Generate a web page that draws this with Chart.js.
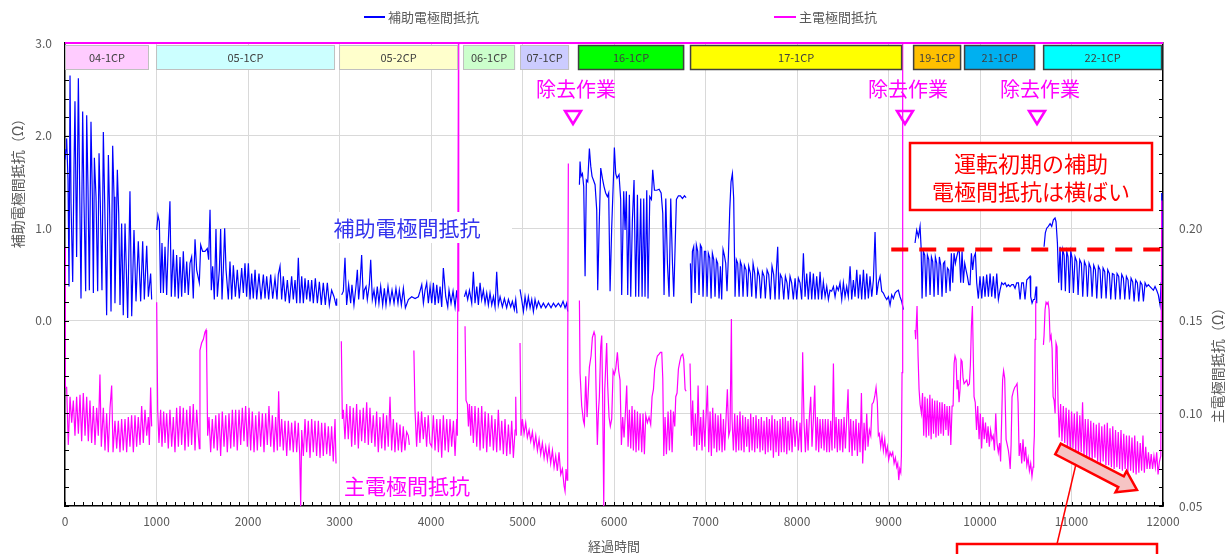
<!DOCTYPE html>
<html>
<head>
<meta charset="utf-8">
<script src="https://cdn.jsdelivr.net/npm/chart.js@4.4.0/dist/chart.umd.min.js"></script>
<style>
body{margin:0;background:#fff}
#wrap{width:1226px;height:554px}
</style>
</head>
<body>
<div id="wrap"><canvas id="c" width="1226" height="554"></canvas></div>
<script>
// operating periods (hours)
const cpLabels = ['04-1CP','05-1CP','05-2CP','06-1CP','07-1CP','16-1CP','17-1CP','19-1CP','21-1CP','22-1CP'];
const cpStart = [0,995,2995,4350,4973,5607,6831,9269,9826,10690];
const cpEnd = [918,2951,4296,4919,5509,6766,9149,9793,10602,11990];
const cpFill = ['#FFCCFF','#CCFFFF','#FFFFCC','#CCFFCC','#CCCCFF','#00FF00','#FFFF00','#FFC000','#00B0F0','#00FFFF'];

// removal work marks (hours)
const removalHours = [5552, 9180, 10623];

// flat level of aux resistance (Ω), hours range
const flatLevel = 0.77;
const flatFrom = 9030;
const flatTo = 12000;

// aux electrode resistance [hours, Ω] (left axis)
const auxSeries = [
[0,1.74],[11,1.85],[18,1.97],[33,1.52],[44,0.37],[55,2.65],[66,1.27],[84,0.42],[98,1.63],[109,2.37],[127,0.69],[146,2.62],[160,1.45],[175,0.24],[193,2.26],[208,1.27],[226,0.32],[237,2.22],[251,1.45],[266,0.33],[284,2.15],[299,1.34],[310,0.30],[321,1.76],[339,1.34],[357,0.32],[372,1.81],[386,1.27],[404,0.33],[419,2.04],[434,1.27],[455,0.06],[474,1.79],[488,1.16],[503,0.10],[521,1.89],[536,1.34],[546,0.19],[572,1.63],[587,1.16],[601,0.17],[619,1.05],[637,0.06],[656,1.05],[685,0.03],[710,1.40],[729,0.05],[754,0.98],[776,0.21],[801,0.86],[827,0.21],[849,0.86],[867,0.23],[893,0.81],[911,0.26],[936,0.51],[947,0.23],[970,null],
[1002,0.98],[1016,1.14],[1031,1.07],[1045,0.30],[1060,0.84],[1075,0.30],[1093,0.80],[1111,0.28],[1129,0.84],[1147,1.29],[1162,0.26],[1184,0.77],[1202,0.26],[1220,0.71],[1239,0.24],[1257,0.69],[1275,0.26],[1293,0.75],[1311,0.30],[1330,0.64],[1348,0.28],[1366,0.62],[1384,0.69],[1402,0.24],[1421,0.88],[1439,0.55],[1468,0.41],[1483,0.82],[1504,0.75],[1530,0.75],[1555,0.78],[1570,0.66],[1585,1.20],[1599,0.33],[1614,0.59],[1632,0.23],[1650,0.99],[1665,0.26],[1687,0.55],[1701,0.99],[1716,0.23],[1730,0.55],[1745,1.00],[1760,0.55],[1785,0.23],[1803,0.64],[1822,0.23],[1840,0.60],[1862,0.26],[1883,0.55],[1905,0.24],[1931,0.57],[1949,0.30],[1967,0.62],[1985,0.26],[2004,0.62],[2022,0.23],[2040,0.51],[2058,0.24],[2077,0.55],[2095,0.23],[2120,0.51],[2142,0.23],[2168,0.50],[2186,0.24],[2204,0.48],[2226,0.23],[2248,0.50],[2270,0.24],[2295,0.46],[2317,0.23],[2331,0.50],[2350,0.59],[2368,0.23],[2386,0.48],[2408,0.21],[2430,0.44],[2452,0.19],[2477,0.48],[2495,0.23],[2514,0.44],[2532,0.19],[2550,0.68],[2568,0.19],[2587,0.48],[2605,0.19],[2623,0.46],[2641,0.23],[2659,0.44],[2678,0.21],[2696,0.44],[2714,0.19],[2736,0.46],[2758,0.19],[2780,0.42],[2801,0.17],[2823,0.41],[2845,0.17],[2867,0.41],[2889,0.17],[2914,0.33],[2940,0.26],[2962,0.17],[2969,0.24],[2990,null],
[3024,0.28],[3042,0.32],[3060,0.68],[3078,0.17],[3100,0.39],[3122,0.19],[3136,0.39],[3158,0.17],[3180,0.37],[3195,0.55],[3209,0.23],[3224,0.39],[3242,0.71],[3260,0.23],[3271,0.33],[3290,0.37],[3304,0.23],[3326,0.39],[3341,0.66],[3359,0.23],[3377,0.33],[3395,0.19],[3413,0.37],[3431,0.19],[3450,0.37],[3472,0.17],[3490,0.35],[3508,0.17],[3530,0.37],[3552,0.19],[3574,0.33],[3596,0.19],[3617,0.35],[3639,0.19],[3654,0.33],[3676,0.17],[3698,0.35],[3720,0.14],[3753,0.23],[3789,0.26],[3826,0.24],[3862,0.26],[3880,0.32],[3899,0.39],[3917,0.19],[3935,0.33],[3953,0.41],[3971,0.19],[3990,0.37],[4008,0.19],[4026,0.41],[4044,0.17],[4063,0.39],[4081,0.19],[4099,0.37],[4117,0.15],[4135,0.57],[4161,0.26],[4183,0.15],[4197,0.33],[4219,0.19],[4241,0.32],[4263,0.15],[4281,0.33],[4299,0.14],[4330,null],
[4365,0.26],[4383,0.32],[4401,0.23],[4420,0.33],[4445,0.19],[4463,0.53],[4481,0.19],[4500,0.37],[4518,0.17],[4536,0.41],[4554,0.23],[4572,0.33],[4591,0.19],[4609,0.30],[4627,0.17],[4645,0.30],[4664,0.17],[4682,0.26],[4700,0.15],[4718,0.53],[4736,0.17],[4755,0.26],[4780,0.15],[4802,0.24],[4827,0.14],[4846,0.23],[4871,0.15],[4889,0.21],[4911,0.12],[4926,0.23],[4940,0.08],[4955,null],
[4973,0.34],[4991,0.23],[5010,0.10],[5028,0.26],[5046,0.14],[5064,0.26],[5083,0.14],[5101,0.23],[5119,0.10],[5137,0.23],[5155,0.14],[5174,0.21],[5203,0.14],[5228,0.19],[5254,0.14],[5283,0.19],[5312,0.14],[5338,0.19],[5363,0.15],[5392,0.19],[5418,0.15],[5443,0.21],[5465,0.14],[5483,0.19],[5494,0.10],[5550,null],
[5622,1.47],[5629,1.72],[5640,1.56],[5655,1.59],[5669,1.45],[5684,0.48],[5698,1.52],[5713,1.50],[5731,1.86],[5746,1.67],[5760,1.56],[5775,1.52],[5793,1.47],[5811,1.20],[5822,0.33],[5837,0.98],[5855,1.65],[5873,1.54],[5891,1.45],[5909,1.38],[5928,1.34],[5942,1.38],[5957,0.32],[5975,1.01],[5997,1.63],[6004,1.87],[6019,1.59],[6033,1.54],[6055,1.58],[6073,1.31],[6084,0.28],[6106,1.40],[6121,0.98],[6135,1.40],[6150,0.28],[6168,1.36],[6183,0.26],[6201,1.09],[6219,1.52],[6237,0.26],[6256,1.36],[6270,0.26],[6292,1.32],[6307,0.26],[6325,1.32],[6339,0.26],[6358,1.41],[6372,0.24],[6391,1.34],[6409,1.31],[6423,1.63],[6442,1.41],[6467,1.41],[6493,1.42],[6515,1.38],[6533,1.16],[6547,0.28],[6566,1.32],[6584,0.62],[6602,0.26],[6620,1.32],[6639,0.62],[6653,0.26],[6668,0.80],[6682,1.31],[6704,1.35],[6726,1.35],[6748,1.32],[6770,1.35],[6788,1.33],[6810,null],
[6835,0.62],[6846,0.19],[6857,0.75],[6871,0.80],[6886,0.30],[6900,0.82],[6915,0.75],[6929,0.28],[6944,0.82],[6958,0.79],[6973,0.26],[6988,0.75],[7002,0.75],[7017,0.26],[7031,0.73],[7046,0.68],[7061,0.24],[7075,0.73],[7090,0.66],[7104,0.26],[7119,0.66],[7133,0.62],[7148,0.24],[7163,0.59],[7177,0.23],[7192,0.77],[7206,0.71],[7221,0.62],[7235,0.32],[7250,0.69],[7265,1.20],[7279,1.50],[7294,1.59],[7308,1.32],[7323,0.26],[7337,0.66],[7352,0.62],[7367,0.26],[7381,0.64],[7396,0.59],[7410,0.26],[7425,0.60],[7443,0.55],[7458,0.26],[7472,0.59],[7491,0.51],[7505,0.26],[7520,0.62],[7538,0.51],[7552,0.24],[7571,0.55],[7589,0.48],[7603,0.24],[7622,0.53],[7640,0.48],[7654,0.24],[7673,0.55],[7691,0.50],[7709,0.23],[7727,0.59],[7745,0.50],[7760,0.23],[7775,0.55],[7789,0.80],[7804,0.23],[7818,0.50],[7836,0.46],[7855,0.23],[7873,0.48],[7891,0.41],[7906,0.23],[7924,0.48],[7942,0.41],[7960,0.23],[7979,0.46],[7997,0.23],[8015,0.46],[8033,0.41],[8051,0.23],[8070,0.73],[8088,0.26],[8106,0.51],[8124,0.23],[8143,0.53],[8161,0.23],[8179,0.51],[8197,0.23],[8215,0.48],[8234,0.23],[8252,0.53],[8270,0.23],[8288,0.42],[8307,0.26],[8325,0.37],[8343,0.23],[8361,0.33],[8379,0.32],[8398,0.37],[8416,0.26],[8434,0.37],[8452,0.33],[8470,0.41],[8489,0.23],[8507,0.41],[8525,0.26],[8543,0.37],[8561,0.26],[8580,0.59],[8598,0.23],[8616,0.44],[8634,0.26],[8653,0.55],[8671,0.24],[8689,0.50],[8707,0.23],[8726,0.55],[8744,0.23],[8762,0.51],[8780,0.24],[8798,0.48],[8817,0.26],[8835,0.44],[8853,0.96],[8871,0.28],[8889,0.41],[8908,0.48],[8926,0.32],[8944,0.30],[8962,0.26],[8981,0.23],[8999,0.26],[9017,0.17],[9035,0.28],[9053,0.24],[9072,0.30],[9090,0.32],[9108,0.33],[9126,0.26],[9144,0.21],[9163,0.12],[9200,null],
[9290,0.84],[9308,0.98],[9327,0.91],[9345,1.02],[9356,0.80],[9367,0.24],[9381,0.75],[9396,0.71],[9410,0.26],[9425,0.71],[9440,0.66],[9454,0.28],[9469,0.69],[9483,0.64],[9498,0.26],[9512,0.69],[9527,0.62],[9542,0.28],[9556,0.69],[9571,0.60],[9585,0.26],[9600,0.62],[9614,0.64],[9629,0.30],[9644,0.57],[9658,0.55],[9673,0.32],[9687,0.73],[9702,0.41],[9716,0.73],[9731,0.62],[9745,0.69],[9760,0.75],[9774,0.75],[9789,0.41],[9804,0.75],[9818,0.41],[9833,0.62],[9847,0.55],[9862,0.48],[9877,0.39],[9891,0.39],[9906,0.73],[9920,0.55],[9935,0.69],[9950,0.73],[9964,0.41],[9982,0.24],[10000,0.48],[10019,0.24],[10037,0.48],[10055,0.26],[10073,0.50],[10092,0.26],[10110,0.51],[10128,0.26],[10146,0.48],[10165,0.24],[10183,0.51],[10201,0.23],[10219,0.33],[10237,0.41],[10256,0.39],[10274,0.41],[10292,0.37],[10310,0.39],[10328,0.37],[10347,0.39],[10365,0.39],[10383,0.35],[10401,0.41],[10420,0.41],[10438,0.23],[10456,0.41],[10474,0.41],[10492,0.23],[10511,0.44],[10529,0.46],[10547,0.48],[10554,0.26],[10569,0.19],[10584,0.23],[10598,0.23],[10613,0.37],[10620,0.19],[10650,null],
[10700,0.80],[10714,0.95],[10729,1.00],[10747,1.02],[10766,1.05],[10784,1.02],[10802,1.09],[10820,1.11],[10831,1.07],[10846,0.84],[10860,0.41],[10875,0.80],[10890,0.33],[10904,0.77],[10919,0.71],[10933,0.32],[10948,0.75],[10962,0.69],[10977,0.30],[10992,0.75],[11006,0.68],[11021,0.30],[11039,0.69],[11057,0.64],[11072,0.28],[11090,0.66],[11108,0.62],[11123,0.26],[11141,0.64],[11159,0.59],[11174,0.26],[11192,0.62],[11210,0.57],[11225,0.26],[11243,0.60],[11261,0.55],[11276,0.24],[11294,0.59],[11312,0.55],[11327,0.24],[11345,0.57],[11363,0.53],[11378,0.24],[11396,0.55],[11414,0.51],[11429,0.23],[11447,0.51],[11465,0.50],[11480,0.23],[11498,0.51],[11516,0.48],[11531,0.23],[11549,0.50],[11567,0.46],[11582,0.23],[11600,0.48],[11618,0.44],[11633,0.23],[11651,0.46],[11669,0.42],[11684,0.21],[11702,0.44],[11720,0.41],[11735,0.21],[11753,0.42],[11771,0.39],[11786,0.21],[11804,0.41],[11822,0.37],[11840,0.39],[11858,0.37],[11876,0.35],[11895,0.33],[11913,0.37],[11931,0.33],[11949,0.28],[11968,0.17],[11979,0.41],[11986,1.38],[11993,0.98]
];

// main electrode resistance [hours, Ω] (right axis)
const mainSeries = [
[0,0.19],[4,0.114],[18,0.114],[36,0.083],[55,0.109],[73,0.095],[91,0.107],[109,0.088],[127,0.109],[146,0.089],[164,0.110],[182,0.085],[200,0.111],[219,0.088],[237,0.109],[255,0.085],[273,0.107],[291,0.084],[310,0.104],[328,0.083],[346,0.103],[364,0.088],[382,0.121],[397,0.082],[419,0.103],[437,0.080],[455,0.100],[473,0.079],[492,0.103],[510,0.115],[525,0.079],[546,0.096],[565,0.081],[583,0.096],[601,0.079],[619,0.097],[637,0.080],[656,0.097],[674,0.079],[692,0.098],[710,0.082],[728,0.099],[747,0.079],[765,0.099],[783,0.082],[801,0.098],[820,0.083],[838,0.104],[856,0.084],[874,0.102],[893,0.088],[911,0.098],[922,0.083],[936,0.114],[947,0.093],[970,null],
[1002,0.160],[1013,0.102],[1027,0.084],[1045,0.102],[1060,0.082],[1078,0.101],[1093,0.084],[1111,0.100],[1129,0.081],[1147,0.102],[1166,0.082],[1184,0.098],[1202,0.079],[1220,0.103],[1239,0.082],[1257,0.104],[1275,0.083],[1293,0.103],[1311,0.080],[1330,0.102],[1348,0.082],[1366,0.104],[1384,0.083],[1402,0.105],[1421,0.080],[1439,0.102],[1457,0.088],[1468,0.081],[1475,0.134],[1493,0.138],[1512,0.140],[1530,0.144],[1541,0.145],[1548,0.133],[1559,0.088],[1574,0.098],[1592,0.079],[1610,0.097],[1628,0.081],[1647,0.099],[1665,0.080],[1683,0.100],[1701,0.077],[1719,0.101],[1738,0.082],[1756,0.099],[1774,0.079],[1792,0.100],[1811,0.081],[1829,0.102],[1847,0.082],[1865,0.102],[1883,0.080],[1902,0.102],[1920,0.083],[1938,0.103],[1956,0.085],[1974,0.104],[1993,0.082],[2011,0.103],[2029,0.080],[2047,0.101],[2066,0.079],[2084,0.099],[2102,0.080],[2120,0.101],[2138,0.082],[2157,0.100],[2175,0.079],[2193,0.100],[2211,0.083],[2229,0.104],[2248,0.082],[2266,0.099],[2284,0.079],[2302,0.098],[2321,0.080],[2335,0.112],[2350,0.082],[2368,0.097],[2386,0.080],[2404,0.096],[2423,0.077],[2441,0.096],[2459,0.080],[2477,0.095],[2495,0.079],[2514,0.096],[2532,0.079],[2550,0.095],[2565,0.078],[2576,0.050],[2587,0.091],[2605,0.077],[2623,0.097],[2641,0.079],[2659,0.096],[2678,0.076],[2696,0.097],[2714,0.079],[2732,0.096],[2750,0.077],[2769,0.096],[2787,0.076],[2805,0.095],[2823,0.077],[2841,0.095],[2860,0.078],[2878,0.093],[2896,0.077],[2914,0.093],[2932,0.074],[2951,0.097],[2962,0.073],[2985,null],
[3020,0.139],[3031,0.097],[3042,0.102],[3060,0.086],[3078,0.105],[3096,0.086],[3115,0.104],[3133,0.082],[3151,0.103],[3169,0.083],[3187,0.105],[3206,0.081],[3224,0.102],[3242,0.085],[3260,0.103],[3278,0.084],[3297,0.106],[3315,0.083],[3333,0.103],[3351,0.084],[3369,0.099],[3388,0.082],[3406,0.101],[3424,0.079],[3442,0.098],[3461,0.081],[3479,0.100],[3497,0.080],[3515,0.099],[3533,0.082],[3552,0.109],[3570,0.080],[3588,0.097],[3606,0.079],[3625,0.095],[3643,0.080],[3661,0.094],[3679,0.079],[3697,0.093],[3715,0.080],[3734,0.090],[3752,0.088],[3763,0.083],[3790,null],
[3813,0.134],[3825,0.102],[3843,0.082],[3861,0.101],[3879,0.084],[3897,0.101],[3916,0.086],[3934,0.098],[3952,0.082],[3970,0.099],[3988,0.084],[4008,0.082],[4026,0.099],[4044,0.080],[4063,0.097],[4081,0.079],[4099,0.097],[4117,0.076],[4135,0.099],[4154,0.080],[4172,0.097],[4190,0.079],[4208,0.097],[4226,0.082],[4245,0.096],[4263,0.077],[4281,0.097],[4288,0.088],[4300,0.30],[4303,0.155],[4330,null],
[4372,0.147],[4383,0.107],[4398,0.105],[4409,0.093],[4420,0.105],[4434,0.088],[4445,0.104],[4463,0.084],[4481,0.104],[4500,0.082],[4518,0.103],[4536,0.080],[4554,0.104],[4572,0.081],[4591,0.101],[4609,0.079],[4627,0.100],[4645,0.082],[4664,0.099],[4682,0.080],[4700,0.097],[4718,0.079],[4736,0.102],[4755,0.080],[4773,0.096],[4791,0.078],[4809,0.097],[4827,0.077],[4846,0.094],[4864,0.078],[4882,0.096],[4900,0.076],[4919,0.091],[4926,0.109],[4933,0.088],[4950,null],
[4973,0.138],[4984,0.088],[4999,0.097],[5017,0.089],[5035,0.095],[5053,0.087],[5072,0.091],[5090,0.085],[5108,0.090],[5126,0.082],[5145,0.088],[5163,0.080],[5181,0.086],[5199,0.078],[5217,0.084],[5236,0.076],[5254,0.082],[5272,0.075],[5290,0.082],[5308,0.073],[5327,0.080],[5345,0.071],[5363,0.077],[5381,0.069],[5399,0.079],[5418,0.067],[5436,0.070],[5454,0.061],[5465,0.058],[5476,0.070],[5487,0.064],[5494,0.127],[5501,0.235],[5510,null],
[5622,0.161],[5629,0.122],[5647,0.104],[5666,0.096],[5676,0.094],[5691,0.120],[5706,0.098],[5720,0.113],[5731,0.125],[5749,0.131],[5764,0.141],[5782,0.144],[5793,0.142],[5804,0.113],[5818,0.083],[5829,0.100],[5840,0.109],[5855,0.136],[5866,0.142],[5877,0.104],[5888,0.050],[5899,0.113],[5920,0.138],[5931,0.115],[5946,0.098],[5960,0.093],[5975,0.097],[5990,0.123],[6004,0.121],[6019,0.124],[6037,0.133],[6051,0.123],[6066,0.118],[6081,0.083],[6095,0.098],[6110,0.087],[6124,0.100],[6139,0.115],[6154,0.082],[6168,0.102],[6183,0.081],[6197,0.104],[6212,0.080],[6226,0.102],[6241,0.079],[6256,0.101],[6270,0.080],[6285,0.100],[6303,0.079],[6317,0.100],[6332,0.078],[6347,0.099],[6365,0.095],[6383,0.098],[6401,0.094],[6416,0.109],[6431,0.113],[6445,0.124],[6460,0.128],[6474,0.131],[6493,0.132],[6507,0.133],[6522,0.133],[6533,0.119],[6544,0.077],[6558,0.098],[6573,0.078],[6591,0.101],[6606,0.080],[6620,0.102],[6635,0.079],[6649,0.101],[6664,0.093],[6675,0.109],[6689,0.111],[6704,0.124],[6719,0.128],[6733,0.131],[6751,0.132],[6762,0.129],[6777,0.113],[6788,0.112],[6810,null],
[6831,0.127],[6846,0.088],[6860,0.107],[6875,0.082],[6889,0.100],[6904,0.080],[6919,0.115],[6933,0.083],[6948,0.098],[6962,0.080],[6977,0.102],[6992,0.082],[7006,0.098],[7021,0.115],[7035,0.079],[7050,0.101],[7064,0.077],[7079,0.103],[7094,0.081],[7108,0.100],[7123,0.079],[7137,0.099],[7152,0.080],[7166,0.100],[7181,0.079],[7196,0.097],[7210,0.080],[7225,0.098],[7239,0.113],[7254,0.088],[7268,0.091],[7283,0.151],[7290,0.097],[7305,0.080],[7319,0.100],[7334,0.079],[7348,0.099],[7363,0.080],[7377,0.101],[7392,0.080],[7407,0.099],[7421,0.079],[7436,0.098],[7450,0.082],[7465,0.097],[7479,0.079],[7494,0.100],[7509,0.080],[7523,0.098],[7538,0.079],[7552,0.099],[7567,0.081],[7581,0.097],[7596,0.079],[7610,0.098],[7625,0.080],[7640,0.096],[7654,0.078],[7669,0.098],[7683,0.079],[7698,0.097],[7712,0.080],[7727,0.099],[7742,0.076],[7756,0.097],[7771,0.079],[7785,0.096],[7800,0.077],[7815,0.097],[7829,0.079],[7844,0.098],[7859,0.079],[7873,0.098],[7888,0.078],[7902,0.096],[7917,0.080],[7931,0.098],[7946,0.079],[7961,0.097],[7979,0.082],[7997,0.096],[8015,0.080],[8033,0.095],[8048,0.079],[8062,0.133],[8077,0.095],[8092,0.079],[8106,0.097],[8121,0.080],[8135,0.098],[8150,0.109],[8164,0.082],[8179,0.097],[8194,0.115],[8208,0.080],[8223,0.098],[8237,0.079],[8252,0.097],[8266,0.081],[8281,0.097],[8296,0.080],[8310,0.097],[8325,0.079],[8339,0.097],[8354,0.079],[8368,0.096],[8383,0.080],[8398,0.127],[8412,0.081],[8427,0.098],[8441,0.079],[8456,0.097],[8470,0.080],[8485,0.097],[8500,0.079],[8514,0.098],[8529,0.081],[8543,0.097],[8558,0.113],[8572,0.079],[8587,0.097],[8602,0.077],[8616,0.096],[8631,0.080],[8645,0.097],[8660,0.077],[8675,0.095],[8689,0.079],[8704,0.111],[8718,0.073],[8733,0.095],[8747,0.080],[8762,0.100],[8776,0.082],[8791,0.091],[8806,0.088],[8820,0.105],[8835,0.106],[8849,0.109],[8864,0.114],[8878,0.106],[8889,0.088],[8900,0.089],[8915,0.082],[8929,0.088],[8944,0.080],[8959,0.086],[8973,0.078],[8988,0.082],[9002,0.075],[9017,0.079],[9031,0.077],[9046,0.079],[9061,0.073],[9075,0.076],[9090,0.071],[9101,0.073],[9112,0.064],[9123,0.070],[9134,0.068],[9141,0.077],[9148,0.122],[9155,0.30],[9165,null],
[9290,0.145],[9297,0.140],[9312,0.158],[9323,0.131],[9334,0.113],[9345,0.105],[9360,0.100],[9372,0.111],[9385,0.088],[9398,0.109],[9412,0.087],[9425,0.108],[9440,0.088],[9452,0.110],[9466,0.086],[9478,0.108],[9492,0.089],[9505,0.107],[9519,0.087],[9532,0.107],[9546,0.088],[9559,0.106],[9573,0.089],[9586,0.106],[9600,0.088],[9613,0.105],[9627,0.091],[9640,0.104],[9654,0.088],[9667,0.104],[9681,0.083],[9695,0.104],[9706,0.104],[9717,0.127],[9727,0.131],[9738,0.129],[9749,0.113],[9760,0.118],[9771,0.106],[9782,0.113],[9793,0.129],[9804,0.128],[9815,0.119],[9826,0.116],[9840,0.117],[9855,0.118],[9869,0.115],[9884,0.116],[9895,0.126],[9906,0.147],[9917,0.158],[9924,0.138],[9935,0.109],[9948,0.106],[9962,0.091],[9975,0.104],[9990,0.086],[10004,0.100],[10018,0.081],[10032,0.098],[10046,0.086],[10060,0.095],[10074,0.084],[10088,0.093],[10102,0.082],[10116,0.091],[10130,0.086],[10144,0.088],[10158,0.080],[10172,0.100],[10186,0.084],[10200,0.079],[10214,0.084],[10225,0.074],[10236,0.095],[10247,0.118],[10258,0.123],[10270,0.119],[10285,0.086],[10298,0.083],[10310,0.080],[10320,0.076],[10330,0.070],[10340,0.083],[10350,0.109],[10365,0.112],[10379,0.114],[10394,0.115],[10405,0.116],[10416,0.106],[10428,0.077],[10442,0.084],[10456,0.073],[10470,0.086],[10484,0.074],[10498,0.082],[10512,0.072],[10526,0.076],[10540,0.069],[10554,0.073],[10568,0.066],[10580,0.071],[10587,0.080],[10594,0.088],[10602,0.140],[10609,0.161],[10650,null],
[10693,0.137],[10700,0.142],[10711,0.156],[10722,0.160],[10733,0.159],[10744,0.160],[10755,0.156],[10766,0.140],[10777,0.142],[10788,0.135],[10799,0.109],[10810,0.107],[10821,0.100],[10831,0.138],[10842,0.136],[10853,0.106],[10866,0.087],[10881,0.105],[10896,0.085],[10911,0.104],[10926,0.084],[10941,0.103],[10956,0.082],[10971,0.102],[10986,0.080],[11001,0.101],[11016,0.081],[11031,0.100],[11046,0.079],[11061,0.101],[11076,0.078],[11091,0.099],[11106,0.079],[11121,0.106],[11136,0.077],[11151,0.097],[11166,0.077],[11181,0.097],[11196,0.076],[11211,0.096],[11226,0.075],[11241,0.095],[11256,0.076],[11271,0.094],[11286,0.074],[11301,0.095],[11316,0.073],[11331,0.093],[11346,0.074],[11361,0.094],[11376,0.072],[11391,0.095],[11406,0.072],[11421,0.092],[11436,0.071],[11451,0.093],[11466,0.070],[11481,0.091],[11496,0.071],[11511,0.090],[11526,0.070],[11541,0.091],[11556,0.069],[11571,0.089],[11586,0.070],[11601,0.088],[11616,0.068],[11631,0.088],[11646,0.069],[11661,0.087],[11676,0.068],[11691,0.088],[11706,0.067],[11721,0.085],[11736,0.068],[11751,0.084],[11766,0.069],[11781,0.088],[11796,0.068],[11811,0.082],[11826,0.070],[11841,0.079],[11856,0.070],[11871,0.078],[11886,0.070],[11901,0.077],[11916,0.071],[11931,0.079],[11946,0.067],[11961,0.074],[11976,0.077],[11986,0.215]
];

const FONT = "'Noto Sans CJK JP', sans-serif";
const GREY = '#595959';

function toPoints(list){
	return list.map(p => ({x: p[0], y: p[1]}));
}

const overlay = {
	id: 'overlay',
	afterDatasetsDraw(chart){
		const ctx = chart.ctx;
		const a = chart.chartArea;
		const x = chart.scales.x;
		const y = chart.scales.y;
		ctx.save();

		// minor ticks
		ctx.strokeStyle = '#000';
		ctx.lineWidth = 1;
		ctx.beginPath();
		for(let i = 0; i <= 25; i++){
			const py = Math.round(y.getPixelForValue(-2 + i*0.2)) + 0.5;
			ctx.moveTo(a.left, py); ctx.lineTo(a.left + 4, py);
		}
		const y2 = chart.scales.y2;
		for(let i = 0; i <= 25; i++){
			const py = Math.round(y2.getPixelForValue(0.05 + i*0.01)) + 0.5;
			ctx.moveTo(a.right - 4, py); ctx.lineTo(a.right, py);
		}
		for(let t = 0; t <= 12000; t += 100){
			const px = Math.round(x.getPixelForValue(t)) + 0.5;
			ctx.moveTo(px, a.bottom); ctx.lineTo(px, a.bottom - 4);
		}
		ctx.stroke();

		// top border
		ctx.strokeStyle = '#FF00FF';
		ctx.lineWidth = 2;
		ctx.beginPath();
		ctx.moveTo(a.left, a.top); ctx.lineTo(a.right, a.top);
		ctx.stroke();

		// period boxes
		ctx.font = '11px ' + FONT;
		ctx.textAlign = 'center';
		ctx.textBaseline = 'middle';
		cpLabels.forEach((lab, i) => {
			const x0 = x.getPixelForValue(cpStart[i]);
			const x1 = x.getPixelForValue(cpEnd[i]);
			const strong = i >= 5;
			ctx.fillStyle = cpFill[i];
			ctx.fillRect(x0, a.top + 2, x1 - x0, 25);
			ctx.strokeStyle = strong ? '#404040' : '#C0C0C0';
			ctx.lineWidth = strong ? 1.5 : 1;
			ctx.strokeRect(x0 + 0.5, a.top + 2.5, x1 - x0 - 1, 24);
			ctx.fillStyle = '#404040';
			ctx.fillText(lab, (x0 + x1) / 2, a.top + 15);
		});

		// removal work marks
		ctx.fillStyle = '#FF00FF';
		ctx.strokeStyle = '#FF00FF';
		ctx.lineWidth = 2.5;
		ctx.font = '20px ' + FONT;
		removalHours.forEach(t => {
			const px = x.getPixelForValue(t);
			ctx.fillText('除去作業', px + 3, 89);
			ctx.beginPath();
			ctx.moveTo(px - 8, 111); ctx.lineTo(px + 8, 111); ctx.lineTo(px, 124); ctx.closePath();
			ctx.stroke();
		});

		// series labels
		ctx.fillStyle = '#fff';
		ctx.fillRect(300, 212, 212, 31);
		ctx.fillStyle = '#3333EE';
		ctx.font = '21px ' + FONT;
		ctx.fillText('補助電極間抵抗', 407, 228);
		ctx.fillStyle = '#FF00FF';
		ctx.fillText('主電極間抵抗', 407, 486);

		// flat level dashed line
		const ly = y.getPixelForValue(flatLevel);
		ctx.strokeStyle = '#FF0000';
		ctx.lineWidth = 4;
		ctx.setLineDash([17, 11]);
		ctx.beginPath();
		ctx.moveTo(x.getPixelForValue(flatFrom), ly);
		ctx.lineTo(x.getPixelForValue(flatTo), ly);
		ctx.stroke();
		ctx.setLineDash([]);

		// red note box
		ctx.fillStyle = '#fff';
		ctx.fillRect(910, 143, 242, 67);
		ctx.lineWidth = 2.5;
		ctx.strokeRect(910, 143, 242, 67);
		ctx.fillStyle = '#FF0000';
		ctx.font = '22px ' + FONT;
		ctx.fillText('運転初期の補助', 1031, 164);
		ctx.fillText('電極間抵抗は横ばい', 1031, 192);

		// block arrow
		const sx = 1058, sy = 449, ex = 1137, ey = 490;
		const ang = Math.atan2(ey - sy, ex - sx);
		const len = Math.hypot(ex - sx, ey - sy);
		ctx.save();
		ctx.translate(sx, sy);
		ctx.rotate(ang);
		ctx.beginPath();
		ctx.moveTo(0, -6); ctx.lineTo(len - 18, -6); ctx.lineTo(len - 18, -12);
		ctx.lineTo(len, 0); ctx.lineTo(len - 18, 12); ctx.lineTo(len - 18, 6);
		ctx.lineTo(0, 6); ctx.closePath();
		ctx.fillStyle = '#F6C4C4';
		ctx.fill();
		ctx.strokeStyle = '#FF0000';
		ctx.lineWidth = 2.5;
		ctx.stroke();
		ctx.restore();

		// leader line and lower box
		ctx.strokeStyle = '#FF0000';
		ctx.lineWidth = 1.5;
		ctx.beginPath();
		ctx.moveTo(1076, 464); ctx.lineTo(1057, 544);
		ctx.stroke();
		ctx.lineWidth = 2.5;
		ctx.fillStyle = '#fff';
		ctx.fillRect(957, 544, 200, 20);
		ctx.strokeRect(957, 544, 200, 20);

		// legend
		ctx.lineWidth = 2;
		ctx.strokeStyle = '#0000FF';
		ctx.beginPath(); ctx.moveTo(364, 17); ctx.lineTo(385, 17); ctx.stroke();
		ctx.strokeStyle = '#FF00FF';
		ctx.beginPath(); ctx.moveTo(774, 17); ctx.lineTo(796, 17); ctx.stroke();
		ctx.fillStyle = GREY;
		ctx.font = '13px ' + FONT;
		ctx.textAlign = 'left';
		ctx.fillText('補助電極間抵抗', 388, 17);
		ctx.fillText('主電極間抵抗', 799, 17);

		// axis titles
		ctx.textAlign = 'center';
		ctx.fillText('経過時間', 614, 546);
		ctx.font = '14px ' + FONT;
		ctx.save();
		ctx.translate(18, 180);
		ctx.rotate(-Math.PI / 2);
		ctx.fillText('補助電極間抵抗（Ω）', 0, 0);
		ctx.restore();
		ctx.save();
		ctx.translate(1218, 362);
		ctx.rotate(-Math.PI / 2);
		ctx.fillText('主電極間抵抗（Ω）', 0, 0);
		ctx.restore();

		ctx.restore();
	}
};

new Chart(document.getElementById('c'), {
	type: 'line',
	data: {
		datasets: [
		{
			label: '主電極間抵抗',
			data: toPoints(mainSeries),
			yAxisID: 'y2',
			borderColor: '#FF00FF',
			borderWidth: 1.2,
			pointRadius: 0,
			spanGaps: false,
			order: 0
		},
		{
			label: '補助電極間抵抗',
			data: toPoints(auxSeries),
			yAxisID: 'y',
			borderColor: '#0000FF',
			borderWidth: 1.2,
			pointRadius: 0,
			spanGaps: false,
			order: 1
		}
		]
	},
	options: {
		responsive: false,
		animation: false,
		devicePixelRatio: 1,
		layout: {padding: {top: 43, left: 0, right: 0, bottom: 0}},
		plugins: {legend: {display: false}, tooltip: {enabled: false}},
		scales: {
			x: {
				type: 'linear', min: 0, max: 12000,
				afterFit(s){ s.height = 48; },
				ticks: {stepSize: 1000, autoSkip: false, maxRotation: 0, padding: 8, color: GREY, font: {family: FONT, size: 12},
					callback: v => String(v)},
				grid: {drawTicks: false, color: c => (c.tick && c.tick.value > 0 && c.tick.value < 12000) ? '#D9D9D9' : 'rgba(0,0,0,0)'},
				border: {color: '#000', width: 1.5}
			},
			y: {
				position: 'left', min: -2, max: 3,
				afterFit(s){ s.width = 65; },
				ticks: {stepSize: 1, padding: 13, color: GREY, font: {family: FONT, size: 12},
					callback: v => v >= 0 ? v.toFixed(1) : ''},
				grid: {drawTicks: false, color: c => (c.tick && c.tick.value > -1.5 && c.tick.value < 2.5) ? '#D9D9D9' : 'rgba(0,0,0,0)'},
				border: {color: '#000', width: 1.5}
			},
			y2: {
				position: 'right', min: 0.05, max: 0.30,
				afterFit(s){ s.width = 63; },
				ticks: {stepSize: 0.05, padding: 16, color: GREY, font: {family: FONT, size: 12},
					callback: v => v <= 0.2001 ? v.toFixed(2) : ''},
				grid: {drawOnChartArea: false, drawTicks: false},
				border: {color: '#000', width: 1.5}
			}
		}
	},
	plugins: [overlay]
});
</script>
</body>
</html>
